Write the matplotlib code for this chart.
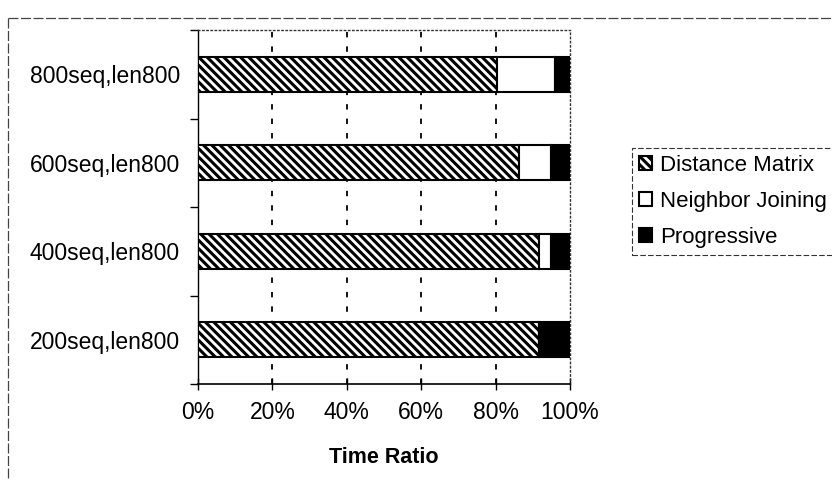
import numpy as np
import matplotlib
matplotlib.use("Agg")
import matplotlib.pyplot as plt
from matplotlib.lines import Line2D
from matplotlib.patches import Patch

plt.rcParams["font.family"] = ["Liberation Sans", "DejaVu Sans"]
plt.rcParams["hatch.linewidth"] = 2.2

# ── data (fractions of total run time, bottom row first) ─────────────────
categories = ["200seq,len800", "400seq,len800", "600seq,len800", "800seq,len800"]
distance_matrix  = [91.7, 91.7, 86.3, 80.4]
neighbor_joining = [0.0, 3.2, 8.6, 15.6]
progressive      = [8.3, 5.1, 5.1, 4.0]
x_ticks = [0, 20, 40, 60, 80, 100]

HATCH = "\\" * 4

fig = plt.figure(figsize=(8.32, 4.93), dpi=100)
ax = fig.add_axes([198/832, 1 - 384/493, 372/832, 354/493])

y = np.arange(len(categories))
h = 0.4
dm = np.array(distance_matrix)
nj = np.array(neighbor_joining)
pg = np.array(progressive)

ax.barh(y, dm, height=h, color="white", edgecolor="black", hatch=HATCH,
        linewidth=1.5, label="Distance Matrix", zorder=3)
ax.barh(y, nj, left=dm, height=h, color="white", edgecolor="black",
        linewidth=1.5, label="Neighbor Joining", zorder=3)
ax.barh(y, pg, left=dm + nj, height=h, color="black", edgecolor="black",
        linewidth=1.5, label="Progressive", zorder=3)

ax.set_xlim(0, 100)
ax.set_ylim(-0.5, len(categories) - 0.5)

ax.set_xticks(x_ticks)
ax.set_xticklabels([f"{t}%" for t in x_ticks], fontsize=16.5)
ax.tick_params(axis="x", direction="inout", length=8, width=1, pad=8)

ax.set_yticks(y)
ax.set_yticklabels(categories, fontsize=16.5)
ax.set_yticks(np.arange(-0.5, len(categories)), minor=True)
ax.tick_params(axis="y", which="major", length=0, pad=13)
ax.tick_params(axis="y", which="minor", direction="out", length=6, width=1)

ax.set_xlabel("Time Ratio", fontsize=15.5, fontweight="bold", labelpad=17)

# dashed vertical gridlines
for t in x_ticks[1:-1]:
    ax.axvline(t, color="black", linewidth=1.3, linestyle=(0, (3, 5)), zorder=1)

ax.spines["left"].set_linewidth(1)
ax.spines["bottom"].set_linewidth(1.2)
for s in ("top", "right"):
    ax.spines[s].set_linestyle((0, (1, 2)))
    ax.spines[s].set_linewidth(1)
    ax.spines[s].set_color("#333333")

handles = [
    Patch(facecolor="white", edgecolor="black", hatch=HATCH, linewidth=1.5),
    Patch(facecolor="white", edgecolor="black", linewidth=1.5),
    Patch(facecolor="black", edgecolor="black", linewidth=1.5),
]
leg = fig.legend(handles, ["Distance Matrix", "Neighbor Joining", "Progressive"],
                 loc="upper left", bbox_to_anchor=(632/832, 1 - 148/493),
                 fontsize=16, frameon=True, fancybox=False,
                 handlelength=0.6, handleheight=0.6, handletextpad=0.35,
                 labelspacing=0.68, borderpad=0.3, borderaxespad=0)
leg.get_frame().set_edgecolor("black")
leg.get_frame().set_linewidth(0.8)
leg.get_frame().set_linestyle((0, (5, 2)))

# outer chart border
fig.add_artist(Line2D([8/832, 1], [1 - 18/493, 1 - 18/493], color="#444444",
                      linewidth=0.9, linestyle=(0, (8, 2))))
fig.add_artist(Line2D([8/832, 8/832], [1 - 18/493, 1 - 480/493], color="#444444",
                      linewidth=0.9, linestyle=(0, (8, 2))))

fig.savefig("out.png", dpi=100)
